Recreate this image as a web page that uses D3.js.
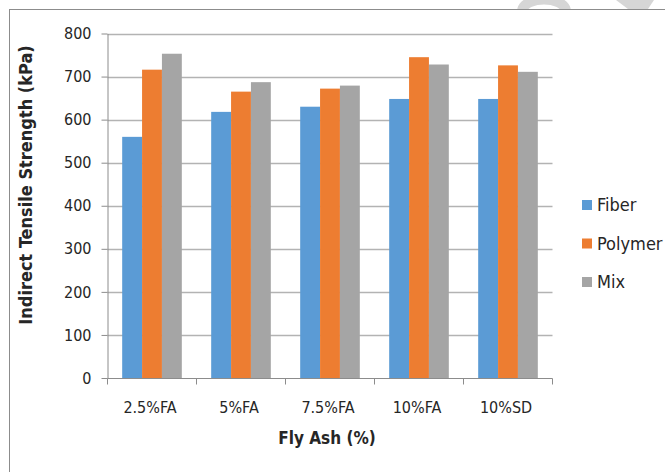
<!DOCTYPE html>
<html>
<head>
<meta charset="utf-8">
<script src="https://cdn.jsdelivr.net/npm/d3@7"></script>
<style>
  html, body { margin: 0; padding: 0; background: #fff; }
  svg { display: block; }
  text { font-family: "Liberation Sans Narrow", "DejaVu Sans Condensed", Lato, sans-serif; fill: #262626; }
</style>
</head>
<body>
<svg id="chart" width="665" height="472"></svg>
<script>
// Indirect tensile strength by additive content
const categories = ["2.5%FA", "5%FA", "7.5%FA", "10%FA", "10%SD"];
const seriesNames = ["Fiber", "Polymer", "Mix"];
const fiber   = [560, 618, 630, 648, 648];
const polymer = [716, 665, 672, 745, 726];
const mix     = [753, 687, 679, 728, 711];
const yTicks  = [0, 100, 200, 300, 400, 500, 600, 700, 800];
const colors  = ["#5B9BD5", "#ED7D31", "#A5A5A5"];

const series = [fiber, polymer, mix];
const svg = d3.select("#chart");

// faint page marks above the frame
svg.append("path")
  .attr("d", "M522,10 C526,-4 562,-4 566,10")
  .attr("fill", "none").attr("stroke", "#d6d6d6").attr("stroke-width", 10);
svg.append("path")
  .attr("d", "M616,0 L654,0 L648,9 L628,9 Z")
  .attr("fill", "#d6d6d6");

// page frame
svg.append("rect").attr("x", 10).attr("y", 10).attr("width", 655).attr("height", 462).attr("fill", "#fff");
svg.append("line").attr("x1", 9.5).attr("x2", 9.5).attr("y1", 9).attr("y2", 472)
  .attr("stroke", "#8c8c8c").attr("stroke-width", 1);
svg.append("line").attr("x1", 9).attr("x2", 665).attr("y1", 9.5).attr("y2", 9.5)
  .attr("stroke", "#8c8c8c").attr("stroke-width", 1);

const plotLeft = 107.5, plotRight = 552.5, plotTop = 33.5, plotBottom = 378;

const x0 = d3.scaleBand().domain(categories).range([plotLeft, plotRight])
  .paddingInner(0.33).paddingOuter(0.165);
const x1 = d3.scaleBand().domain(seriesNames).range([0, x0.bandwidth()]);
const y = d3.scaleLinear().domain([0, 800]).range([plotBottom, plotTop]);

// gridlines
svg.append("g")
  .selectAll("line").data(yTicks.filter(d => d > 0)).join("line")
  .attr("x1", plotLeft).attr("x2", plotRight)
  .attr("y1", d => Math.round(y(d)) + 0.5).attr("y2", d => Math.round(y(d)) + 0.5)
  .attr("stroke", "#b3b3b3").attr("stroke-width", 1.3);

// bars
const groups = svg.append("g").selectAll("g").data(categories).join("g")
  .attr("transform", d => `translate(${x0(d)},0)`);
groups.selectAll("rect")
  .data((c, i) => seriesNames.map((s, k) => ({ s, v: series[k][i], k })))
  .join("rect")
  .attr("x", d => x1(d.s))
  .attr("width", x1.bandwidth())
  .attr("y", d => y(d.v))
  .attr("height", d => y(0) - y(d.v))
  .attr("fill", d => colors[d.k]);

// y axis
const yAxis = svg.append("g").attr("transform", `translate(${plotLeft},0)`)
  .call(d3.axisLeft(y).tickValues(yTicks).tickSize(6).tickSizeOuter(0).tickPadding(10));
yAxis.select(".domain").attr("stroke", "#8c8c8c");
yAxis.selectAll(".tick line").attr("stroke", "#8c8c8c");
yAxis.attr("font-family", null);
yAxis.selectAll(".tick text").attr("font-size", 16).attr("fill", "#262626");

// x axis with ticks at band boundaries
const xAxisG = svg.append("g").attr("transform", `translate(0,${Math.round(plotBottom) + 0.5})`);
xAxisG.append("line").attr("x1", plotLeft).attr("x2", plotRight).attr("stroke", "#8c8c8c");
const step = x0.step();
const bounds = d3.range(categories.length + 1).map(i => plotLeft + i * step);
xAxisG.selectAll("line.tk").data(bounds).join("line").attr("class", "tk")
  .attr("x1", d => d).attr("x2", d => d).attr("y1", 0).attr("y2", 6)
  .attr("stroke", "#8c8c8c");
xAxisG.selectAll("text").data(categories).join("text")
  .attr("x", d => x0(d) + x0.bandwidth() / 2 - 2)
  .attr("y", 34)
  .attr("text-anchor", "middle")
  .attr("font-size", 16)
  .text(d => d);

// axis titles
svg.append("text")
  .attr("transform", "translate(32,185) rotate(-90)")
  .attr("text-anchor", "middle")
  .attr("font-size", 18).attr("font-weight", "bold")
  .text("Indirect Tensile Strength (kPa)");
svg.append("text")
  .attr("x", 327).attr("y", 444)
  .attr("text-anchor", "middle")
  .attr("font-size", 17).attr("font-weight", "bold")
  .text("Fly Ash (%)");

// legend
const legend = svg.append("g").selectAll("g").data(seriesNames).join("g")
  .attr("transform", (d, i) => `translate(582,${200 + i * 38.5})`);
legend.append("rect").attr("width", 10).attr("height", 10).attr("fill", (d, i) => colors[i]);
legend.append("text").attr("x", 15).attr("y", 11).attr("font-size", 18).text(d => d);
</script>
</body>
</html>
